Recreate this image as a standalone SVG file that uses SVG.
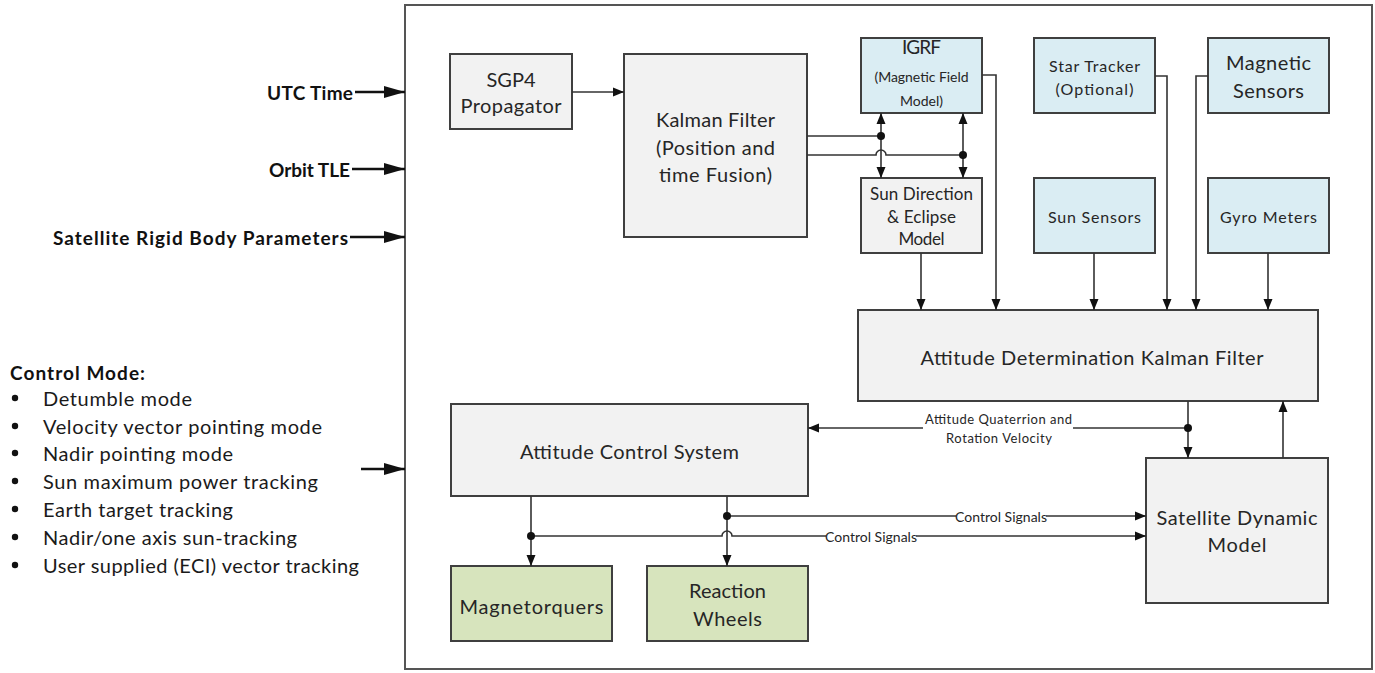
<svg xmlns="http://www.w3.org/2000/svg" width="1375" height="673" viewBox="0 0 1375 673">
<style>
.box{stroke:#3f3f3f;stroke-width:2}
.g{fill:#f2f2f2}
.b{fill:#daedf3}
.gr{fill:#d7e4bd}
.t{font-family:Lato,"Liberation Sans",sans-serif;fill:#262626;text-anchor:middle;dominant-baseline:central}
.c{fill:none;stroke:#333;stroke-width:1.6}
.big{fill:none;stroke:#111;stroke-width:2.6}
.lt{font-family:Lato,"Liberation Sans",sans-serif;fill:#111;font-weight:bold;font-size:19px;text-anchor:end;dominant-baseline:central}
.li{font-family:Lato,"Liberation Sans",sans-serif;fill:#1a1a1a;font-size:20px;dominant-baseline:central}
.dot{fill:#111}
.bg{fill:#fff}
</style>
<defs>
<marker id="a" markerUnits="userSpaceOnUse" markerWidth="12" markerHeight="10" refX="11" refY="5" orient="auto-start-reverse"><path d="M0,0.5 L11,5 L0,9.5 z" fill="#111"/></marker>
<marker id="A" markerUnits="userSpaceOnUse" markerWidth="22" markerHeight="14" refX="21" refY="7" orient="auto"><path d="M0,1 L21,7 L0,13 z" fill="#111"/></marker>
</defs>
<rect x="405" y="5" width="967" height="664" fill="#fff" stroke="#555" stroke-width="2"/>

<g id="inputs">
<text class="lt" x="353" y="92" textLength="86">UTC Time</text>
<text class="lt" x="350" y="169" textLength="81">Orbit TLE</text>
<text class="lt" x="348" y="237" textLength="295">Satellite Rigid Body Parameters</text>
<text class="lt" x="10" y="372" style="text-anchor:start" textLength="135">Control Mode:</text>
<g class="li">
<circle cx="15" cy="398" r="3.2" fill="#111"/><text x="43" y="398" textLength="149">Detumble mode</text>
<circle cx="15" cy="426" r="3.2" fill="#111"/><text x="43" y="426" textLength="279">Velocity vector pointing mode</text>
<circle cx="15" cy="453" r="3.2" fill="#111"/><text x="43" y="453" textLength="190">Nadir pointing mode</text>
<circle cx="15" cy="481" r="3.2" fill="#111"/><text x="43" y="481" textLength="275">Sun maximum power tracking</text>
<circle cx="15" cy="509" r="3.2" fill="#111"/><text x="43" y="509" textLength="190">Earth target tracking</text>
<circle cx="15" cy="537" r="3.2" fill="#111"/><text x="43" y="537" textLength="254">Nadir/one axis sun-tracking</text>
<circle cx="15" cy="565" r="3.2" fill="#111"/><text x="43" y="565" textLength="316">User supplied (ECI) vector tracking</text>
</g>
</g>

<g id="n-sgp4"><rect class="box g" x="450" y="54" width="122" height="75"/>
<text class="t" x="511" y="79" font-size="20" textLength="49">SGP4</text>
<text class="t" x="511" y="105" font-size="20" textLength="101">Propagator</text></g>

<g id="n-kf"><rect class="box g" x="624" y="54" width="183" height="183"/>
<text class="t" x="715.5" y="119" font-size="20" textLength="119">Kalman Filter</text>
<text class="t" x="715.5" y="147" font-size="20" textLength="119">(Position and</text>
<text class="t" x="715.5" y="174" font-size="20" textLength="113">time Fusion)</text></g>

<g id="n-igrf"><rect class="box b" x="861" y="38" width="121" height="75"/>
<text class="t" x="921.5" y="46" font-size="19" textLength="39">IGRF</text>
<text class="t" x="921.5" y="76" font-size="14" textLength="94">(Magnetic Field</text>
<text class="t" x="921.5" y="100" font-size="14" textLength="43">Model)</text></g>

<g id="n-sun"><rect class="box g" x="861" y="178" width="121" height="75"/>
<text class="t" x="921.5" y="193" font-size="17" textLength="103">Sun Direction</text>
<text class="t" x="921.5" y="216" font-size="17" textLength="69">&amp; Eclipse</text>
<text class="t" x="921.5" y="238" font-size="17" textLength="46">Model</text></g>

<g id="n-star"><rect class="box b" x="1034" y="38" width="121" height="75"/>
<text class="t" x="1094.5" y="65" font-size="16" textLength="91">Star Tracker</text>
<text class="t" x="1094.5" y="88" font-size="16" textLength="78">(Optional)</text></g>

<g id="n-mag"><rect class="box b" x="1208" y="38" width="121" height="75"/>
<text class="t" x="1268.5" y="62" font-size="20" textLength="85">Magnetic</text>
<text class="t" x="1268.5" y="90" font-size="20" textLength="71">Sensors</text></g>

<g id="n-sunsens"><rect class="box b" x="1034" y="178" width="121" height="75"/>
<text class="t" x="1094.5" y="216" font-size="16" textLength="93">Sun Sensors</text></g>

<g id="n-gyro"><rect class="box b" x="1208" y="178" width="121" height="75"/>
<text class="t" x="1268.5" y="216" font-size="16" textLength="97">Gyro Meters</text></g>

<g id="n-adkf"><rect class="box g" x="858" y="310" width="460" height="91"/>
<text class="t" x="1092" y="357" font-size="20" textLength="343">Attitude Determination Kalman Filter</text></g>

<g id="n-acs"><rect class="box g" x="451" y="404" width="357" height="92"/>
<text class="t" x="629.5" y="451" font-size="20" textLength="219">Attitude Control System</text></g>

<g id="n-mt"><rect class="box gr" x="451" y="566" width="161" height="75"/>
<text class="t" x="531.5" y="606" font-size="20" textLength="144">Magnetorquers</text></g>

<g id="n-rw"><rect class="box gr" x="647" y="566" width="161" height="75"/>
<text class="t" x="727.5" y="590" font-size="20" textLength="77">Reaction</text>
<text class="t" x="727.5" y="618" font-size="20" textLength="69">Wheels</text></g>

<g id="n-sdm"><rect class="box g" x="1146" y="458" width="182" height="145"/>
<text class="t" x="1237" y="517" font-size="20" textLength="161">Satellite Dynamic</text>
<text class="t" x="1237" y="544" font-size="20" textLength="59">Model</text></g>

<g id="connectors">
<path class="big" d="M355,92 H405" marker-end="url(#A)"/>
<path class="big" d="M352,169 H405" marker-end="url(#A)"/>
<path class="big" d="M350,237 H405" marker-end="url(#A)"/>
<path class="big" d="M361,469 H405" marker-end="url(#A)"/>

<path class="c" d="M572,92 H624" marker-end="url(#a)"/>
<path class="c" d="M807,136 H881"/>
<path class="c" d="M807,155 H876 A5,5 0 0 1 886,155 H963"/>
<path class="c" d="M881,113 V178" marker-start="url(#a)" marker-end="url(#a)"/>
<path class="c" d="M963,113 V178" marker-start="url(#a)" marker-end="url(#a)"/>
<circle class="dot" cx="881" cy="136" r="4"/>
<circle class="dot" cx="963" cy="155" r="4"/>

<path class="c" d="M921,253 V310" marker-end="url(#a)"/>
<path class="c" d="M982,75 H996 V310" marker-end="url(#a)"/>
<path class="c" d="M1094,253 V310" marker-end="url(#a)"/>
<path class="c" d="M1155,76 H1167 V310" marker-end="url(#a)"/>
<path class="c" d="M1208,76 H1196 V310" marker-end="url(#a)"/>
<path class="c" d="M1268,253 V310" marker-end="url(#a)"/>

<path class="c" d="M1188,401 V458" marker-end="url(#a)"/>
<path class="c" d="M1188,428 H808" marker-end="url(#a)"/>
<circle class="dot" cx="1188" cy="428" r="4"/>
<path class="c" d="M1283,458 V401" marker-end="url(#a)"/>
<rect class="bg" x="923" y="410" width="150" height="36"/>
<text class="t" x="998.5" y="419" font-size="13" textLength="147">Attitude Quaterrion and</text>
<text class="t" x="999" y="438" font-size="13" textLength="106">Rotation Velocity</text>

<path class="c" d="M531,496 V566" marker-end="url(#a)"/>
<path class="c" d="M727,496 V566" marker-end="url(#a)"/>
<path class="c" d="M727,516 H1146" marker-end="url(#a)"/>
<path class="c" d="M531,536 H722 A5,5 0 0 1 732,536 H1146" marker-end="url(#a)"/>
<circle class="dot" cx="727" cy="516" r="4"/>
<circle class="dot" cx="531" cy="536" r="4"/>
<rect class="bg" x="956" y="508" width="90" height="16"/>
<text class="t" x="1001" y="516" font-size="14" textLength="92">Control Signals</text>
<rect class="bg" x="826" y="528" width="90" height="16"/>
<text class="t" x="871" y="536" font-size="14" textLength="92">Control Signals</text>
</g>
</svg>
